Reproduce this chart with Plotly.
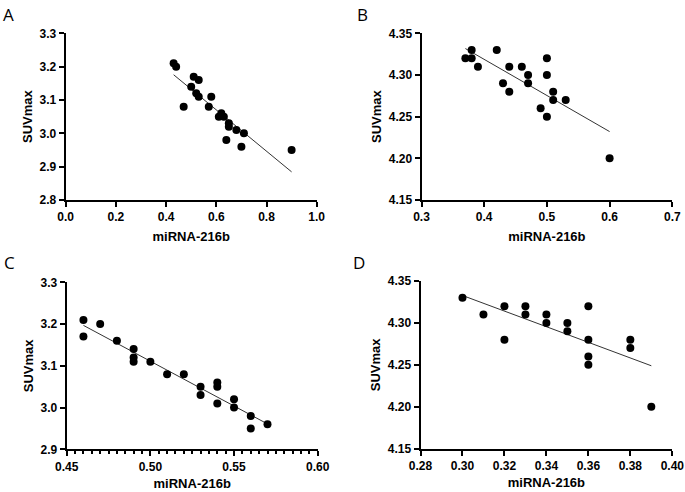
import numpy as np
import plotly.graph_objects as go

# Panel A
a_x = [0.43, 0.44, 0.51, 0.53, 0.50, 0.52, 0.53, 0.58, 0.47, 0.57, 0.62, 0.61, 0.63, 0.62,
       0.65, 0.65, 0.68, 0.71, 0.64, 0.70, 0.90]
a_y = [3.21, 3.20, 3.17, 3.16, 3.14, 3.12, 3.11, 3.11, 3.08, 3.08, 3.06, 3.05, 3.05, 3.055,
       3.03, 3.02, 3.01, 3.00, 2.98, 2.96, 2.95]
# Panel B
b_x = [0.37, 0.38, 0.38, 0.39, 0.42, 0.43, 0.44, 0.44, 0.46, 0.47, 0.47, 0.49, 0.50, 0.50,
       0.50, 0.51, 0.51, 0.53, 0.60]
b_y = [4.32, 4.33, 4.32, 4.31, 4.33, 4.29, 4.31, 4.28, 4.31, 4.30, 4.29, 4.26, 4.32, 4.30,
       4.25, 4.28, 4.27, 4.27, 4.20]
# Panel C
c_x = [0.46, 0.46, 0.47, 0.48, 0.49, 0.49, 0.49, 0.50, 0.51, 0.52, 0.53, 0.53, 0.54, 0.54,
       0.54, 0.55, 0.55, 0.56, 0.56, 0.57]
c_y = [3.21, 3.17, 3.20, 3.16, 3.14, 3.12, 3.11, 3.11, 3.08, 3.08, 3.05, 3.03, 3.06, 3.05,
       3.01, 3.02, 3.00, 2.98, 2.95, 2.96]
# Panel D
d_x = [0.30, 0.31, 0.32, 0.32, 0.33, 0.33, 0.34, 0.34, 0.35, 0.35, 0.36, 0.36, 0.36, 0.36,
       0.38, 0.38, 0.39]
d_y = [4.33, 4.31, 4.32, 4.28, 4.32, 4.31, 4.31, 4.30, 4.30, 4.29, 4.32, 4.28, 4.26, 4.25,
       4.28, 4.27, 4.20]

panels = [
    dict(x=a_x, y=a_y, letter="A", xr=[0, 1.0], xd=0.2, yr=[2.8, 3.3], yd=0.1, xfmt=".1f", yfmt=".1f", minor=None),
    dict(x=b_x, y=b_y, letter="B", xr=[0.3, 0.7], xd=0.1, yr=[4.15, 4.35], yd=0.05, xfmt=".1f", yfmt=".2f", minor=None),
    dict(x=c_x, y=c_y, letter="C", xr=[0.45, 0.60], xd=0.05, yr=[2.9, 3.3], yd=0.1, xfmt=".2f", yfmt=".1f", minor=0.005),
    dict(x=d_x, y=d_y, letter="D", xr=[0.28, 0.40], xd=0.02, yr=[4.15, 4.35], yd=0.05, xfmt=".2f", yfmt=".2f", minor=None),
]

W, H = 685, 492
xdoms = [[65.7 / W, 316.7 / W], [421.5 / W, 672.3 / W], [66.7 / W, 317.7 / W], [420.5 / W, 672.3 / W]]
ydoms = [[1 - 200 / H, 1 - 33.3 / H], [1 - 200 / H, 1 - 33.3 / H], [1 - 449.3 / H, 1 - 282.3 / H], [1 - 448.7 / H, 1 - 281 / H]]
letter_pos = [(1, 1), (355, 1), (2, 249), (351, 249)]

fig = go.Figure()
FAM = "Liberation Sans"
font_tick = dict(family=FAM, size=12, color="black", weight="bold")
font_title = dict(family=FAM, size=13, color="black", weight="bold")

for i, p in enumerate(panels):
    n = "" if i == 0 else str(i + 1)
    xa, ya = "x" + n, "y" + n
    xs = np.array(p["x"]); ys = np.array(p["y"])
    k, b = np.polyfit(xs, ys, 1)
    lx = np.array([xs.min(), xs.max()])
    fig.add_trace(go.Scatter(x=lx, y=k * lx + b, mode="lines", line=dict(color="#333333", width=1),
                             xaxis=xa, yaxis=ya, showlegend=False, hoverinfo="skip"))
    fig.add_trace(go.Scatter(x=p["x"], y=p["y"], mode="markers", marker=dict(color="black", size=8),
                             xaxis=xa, yaxis=ya, showlegend=False))
    xaxis = dict(domain=xdoms[i], range=p["xr"], dtick=p["xd"], tick0=p["xr"][0], tickformat=p["xfmt"],
                 showline=True, linecolor="black", linewidth=2, ticks="outside", ticklen=5, tickwidth=2,
                 tickcolor="black", showgrid=False, zeroline=False, tickfont=font_tick, automargin=False,
                 title=dict(text="miRNA-216b", font=font_title, standoff=8 if i < 2 else 6), anchor=ya, fixedrange=True)
    if p["minor"]:
        xaxis["minor"] = dict(dtick=p["minor"], tick0=p["xr"][0], ticks="outside", ticklen=3, tickwidth=1.5, tickcolor="black", showgrid=False)
    yaxis = dict(domain=ydoms[i], range=p["yr"], dtick=p["yd"], tick0=p["yr"][0], tickformat=p["yfmt"],
                 showline=True, linecolor="black", linewidth=2, ticks="outside", ticklen=5, tickwidth=2,
                 tickcolor="black", showgrid=False, zeroline=False, tickfont=font_tick, automargin=False,
                 title=dict(text="SUVmax", font=font_title, standoff=4), anchor=xa, fixedrange=True)
    fig.layout["xaxis" + n] = xaxis
    fig.layout["yaxis" + n] = yaxis
    lxp, lyp = letter_pos[i]
    fig.add_annotation(text=p["letter"], x=lxp / W, y=1 - lyp / H, xref="paper", yref="paper",
                       xanchor="left", yanchor="top", showarrow=False,
                       font=dict(family="Open Sans", size=17, color="black"))

fig.update_layout(width=W, height=H, margin=dict(l=0, r=0, t=0, b=0, autoexpand=False),
                  paper_bgcolor="white", plot_bgcolor="white")
fig.write_html("out.html", config={"displayModeBar": False},
               post_script="document.body.style.margin='0';document.body.style.overflow='hidden';")
